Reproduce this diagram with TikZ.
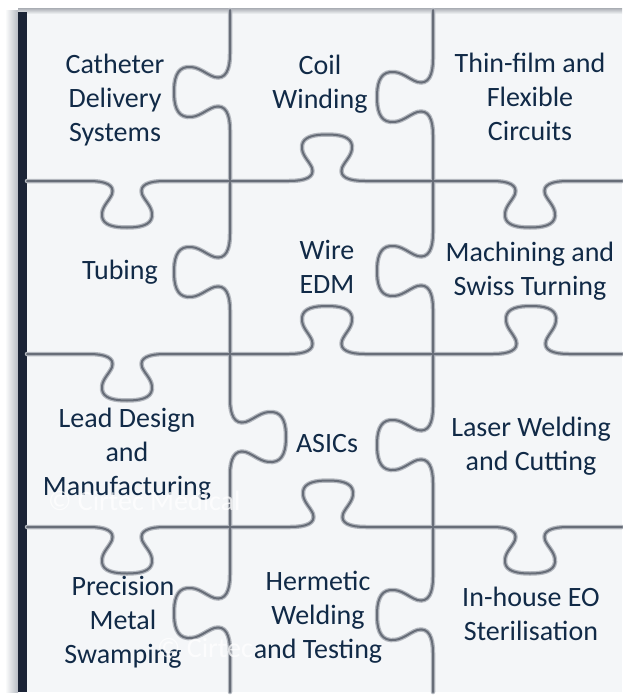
\documentclass[tikz,border=0pt]{standalone}
\usepackage{fontspec}
\setmainfont{Carlito}
\definecolor{fillcol}{HTML}{F4F6F8}
\definecolor{linecol}{HTML}{676D78}
\definecolor{glowcol}{HTML}{B4B8BF}
\definecolor{txtcol}{HTML}{112A47}
\definecolor{barcol}{HTML}{1B2436}
\definecolor{shadecol}{HTML}{B7BCC3}
\definecolor{topcol}{HTML}{A9ADB3}
% horizontal edge: x-start, x-end, y, knob centre x, signed depth factor
\newcommand\hedge[5]{%
\draw (#1,#3) -- ({#4-38},#3)
 .. controls ({#4-22},#3) and ({#4-12},{#3+4*(#5)}) .. ({#4-15},{#3+14*(#5)})
 .. controls ({#4-18},{#3+22*(#5)}) and ({#4-26},{#3+28*(#5)}) .. ({#4-25},{#3+38*(#5)})
 .. controls ({#4-24},{#3+48*(#5)}) and ({#4-12},{#3+50*(#5)}) .. (#4,{#3+50*(#5)})
 .. controls ({#4+12},{#3+50*(#5)}) and ({#4+24},{#3+48*(#5)}) .. ({#4+25},{#3+38*(#5)})
 .. controls ({#4+26},{#3+28*(#5)}) and ({#4+18},{#3+22*(#5)}) .. ({#4+15},{#3+14*(#5)})
 .. controls ({#4+12},{#3+4*(#5)}) and ({#4+22},#3) .. ({#4+38},#3)
 -- (#2,#3);}
% vertical edge: y-start, y-end, x, knob centre y, signed depth factor
\newcommand\vedge[5]{%
\draw (#3,#1) -- (#3,{#4-38})
 .. controls (#3,{#4-22}) and ({#3+4*(#5)},{#4-12}) .. ({#3+14*(#5)},{#4-15})
 .. controls ({#3+22*(#5)},{#4-18}) and ({#3+28*(#5)},{#4-26}) .. ({#3+38*(#5)},{#4-25})
 .. controls ({#3+48*(#5)},{#4-24}) and ({#3+50*(#5)},{#4-12}) .. ({#3+50*(#5)},#4)
 .. controls ({#3+50*(#5)},{#4+12}) and ({#3+48*(#5)},{#4+24}) .. ({#3+38*(#5)},{#4+25})
 .. controls ({#3+28*(#5)},{#4+26}) and ({#3+22*(#5)},{#4+18}) .. ({#3+14*(#5)},{#4+15})
 .. controls ({#3+4*(#5)},{#4+12}) and (#3,{#4+22}) .. (#3,{#4+38})
 -- (#3,#2);}
\newcommand\alledges{%
 \hedge{27}{230}{181}{127}{0.93}\hedge{230}{433}{181}{327}{-0.93}\hedge{433}{622}{181}{530}{0.93}%
 \hedge{27}{230}{354}{127}{0.93}\hedge{230}{433}{354}{327}{-0.96}\hedge{433}{622}{354}{531}{-0.96}%
 \hedge{27}{230}{527}{127}{0.93}\hedge{230}{433}{527}{328}{-0.93}\hedge{433}{622}{527}{530}{0.93}%
 \vedge{10}{181}{230}{92}{-1.12}\vedge{181}{354}{230}{272}{-1.12}\vedge{354}{527}{230}{437}{1.12}\vedge{527}{692}{230}{613}{-1.12}%
 \vedge{10}{181}{433}{97}{-1.12}\vedge{181}{354}{433}{271}{-1.12}\vedge{354}{527}{433}{445}{-1.12}\vedge{527}{692}{433}{615}{-1.12}%
}
\tikzset{
 lbl/.style={text=txtcol, align=center, font=\fontsize{28}{34}\selectfont, inner sep=0pt},
 wmark/.style={text=white, opacity=0.75, font=\fontsize{28}{34}\selectfont, inner sep=0pt, anchor=base west}
}
\begin{document}
\begin{tikzpicture}[x=1pt,y=-1pt]
\useasboundingbox (0,0) rectangle (622,696);
\fill[white] (0,0) rectangle (622,696);
% shadows and frame
\shade[left color=white, right color=shadecol] (5,10) rectangle (18,692);
\fill[fillcol] (27,11) rectangle (622,692);
\shade[top color=topcol, bottom color=fillcol] (18,8) rectangle (622,14);
\fill[barcol] (18,12) rectangle (27,692);
% puzzle lines
\begin{scope}[line width=4.5pt, draw=glowcol, line cap=round, line join=round]
\alledges
\end{scope}
\begin{scope}[line width=2pt, draw=linecol, line cap=round, line join=round]
\alledges
\end{scope}
% labels
\node[lbl] (t1) at (115,100) {Catheter\\Delivery\\Systems};
\node[lbl] (t2) at (320,84) {Coil\\Winding};
\node[lbl] (t3) at (530,97) {Thin-film and\\Flexible\\Circuits};
\node[lbl] (t4) at (120,272) {Tubing};
\node[lbl] (t5) at (327,267) {Wire\\EDM};
\node[lbl] (t6) at (530,271) {Machining and\\Swiss Turning};
\node[lbl] (t7) at (127,454) {Lead Design\\and\\Manufacturing};
\node[lbl] (t8) at (327,444) {ASICs};
\node[lbl] (t9) at (531,446) {Laser Welding\\and Cutting};
\node[lbl] (t10) at (123,622) {Precision\\Metal\\Swamping};
\node[lbl] (t11) at (318,617) {Hermetic\\Welding\\and Testing};
\node[lbl] (t12) at (531,614) {In-house EO\\Sterilisation};
% watermarks
\node[wmark] (w1) at (48,510) {© Cirtec Medical};
\node[wmark] (w2) at (157,657) {© Cirtec};
\end{tikzpicture}
\end{document}
